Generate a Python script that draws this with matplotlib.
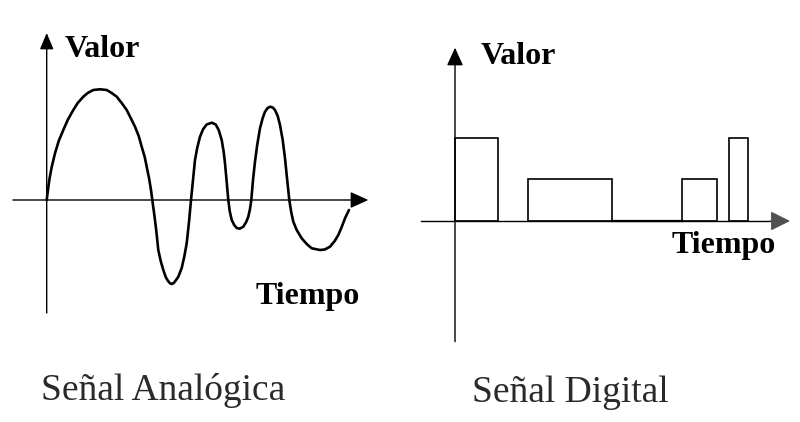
import matplotlib
matplotlib.use("Agg")
import matplotlib.pyplot as plt

# ---------------- data ----------------
# Analog signal: time vs value (arbitrary units)
analog_t = [0, 1, 2.6, 5, 8.3, 12, 16.6, 21, 26.6, 31, 36.6, 41, 46.6, 53.3, 60, 65,
            70, 75, 80, 84, 88.3, 92, 95, 98, 100, 102.5, 104.3, 105.6,
            107.5, 109.5, 111.6, 114, 116.6, 119, 121, 123, 125, 127, 129, 131.5,
            135, 137.5, 140, 142.3, 144.3,
            146.3, 148.3, 150.5, 153.3, 156.5, 160, 165, 169, 172, 175, 177, 178.3,
            180, 181.6,
            183, 185, 187.5, 190, 193, 196.6, 199.5, 201.6, 203.3, 204.6,
            206.3, 208.3, 210.5, 213.3, 216, 218.3, 221, 223.5, 226, 228.3, 231,
            233.3, 236, 238.3, 240.5, 242.6,
            244.5, 246.6, 250, 255, 260, 265, 273.3, 278, 283.3, 288, 291.6, 295,
            298.3, 302.3]
analog_v = [0, 8, 20, 33, 46.7, 59, 70, 80, 90, 97, 103.3, 107, 110, 110.7, 110, 107,
            103.3, 97, 90, 82, 73.3, 64, 53.3, 43, 33.3, 21, 10, 0,
            -14, -30, -50, -61, -70, -77, -80.5, -83, -84, -83, -80.5, -77,
            -68, -57, -43.3, -22, 0,
            20, 40, 52, 63.3, 71, 75.5, 77.3, 75.5, 70, 60, 48, 36.7,
            18, 0,
            -11, -20, -25, -28, -28.7, -26.7, -22, -16.7, -9, 0,
            20, 38.3, 55, 71.7, 82, 88.3, 92, 93.3, 92.5, 90, 84,
            75, 60, 41.7, 20, 0,
            -12, -21.7, -30, -38.3, -44, -48.3, -50, -49.5, -46.7, -41, -35, -27,
            -18.3, -10]

# Digital signal: pulses (start time, duration, level)
digital_start = [0, 73.3, 226.7, 274.3]
digital_width = [42.7, 83.4, 35.6, 18.4]
digital_level = [2, 1, 1, 2]
digital_zero_segment = [156.7, 226.7]

titles = ["Señal Analógica", "Señal Digital"]
y_label = "Valor"
x_label = "Tiempo"

# ---------------- figure ----------------
W, H = 800, 422
fig = plt.figure(figsize=(W / 100, H / 100), dpi=100)
fig.patch.set_facecolor("white")

def px(x, y):
    return x / W, 1 - y / H

# Left (analog) axes: data units map to pixels, origin at (46.7, 200)
axL = fig.add_axes([0, 0, 1, 1])
axL.set_xlim(-46.7, W - 46.7)
axL.set_ylim(200 - H, 200)
axL.axis("off")
axL.patch.set_alpha(0)

# Right (digital) axes: origin at (455, 221), level unit = 41.7 px
unit = 41.7
axR = fig.add_axes([0, 0, 1, 1])
axR.set_xlim(-455, W - 455)
axR.set_ylim((221 - H) / unit, 221 / unit)
axR.axis("off")
axR.patch.set_alpha(0)

def arrow(ax, start, tip, color="black", hl=1.1, hw=0.5):
    ax.annotate("", xy=tip, xytext=start,
                arrowprops=dict(arrowstyle=f"-|>,head_length={hl},head_width={hw}",
                                mutation_scale=10, lw=1.0, color=color,
                                shrinkA=0, shrinkB=0))

# analog axes
arrow(axL, (0, -113), (0, 167), hl=1.0, hw=0.42)
arrow(axL, (-33.7, 0), (321.6, 0))
axL.plot(analog_t, analog_v, color="black", lw=1.9, solid_capstyle="round",
         solid_joinstyle="round")

# digital axes
arrow(axR, (0, -120.7 / unit), (0, 173.3 / unit), hl=1.1, hw=0.5)
axR.plot([-34.3, 320], [0, 0], color="black", lw=1.0)
arrow(axR, (315, 0), (335, 0), color="#505050", hl=1.2, hw=0.6)
axR.bar(digital_start, digital_level, width=digital_width, align="edge",
        fill=False, edgecolor="black", lw=1.2)
axR.plot(digital_zero_segment, [0, 0], color="black", lw=1.6)

# labels
lab = dict(family="Liberation Serif", fontweight="bold", fontsize=23,
           color="black", ha="left", va="baseline")
fig.text(*px(65, 57), y_label, **lab)
fig.text(*px(481, 64.5), y_label, **lab)
fig.text(*px(256, 304), x_label, **lab)
fig.text(*px(672, 253), x_label, **lab)

tit = dict(family="Liberation Serif", fontsize=27, color="#2a2a2a",
           ha="left", va="baseline")
fig.text(*px(41, 400), titles[0], **tit)
fig.text(*px(472, 401.5), titles[1], **tit)

fig.savefig("out.png", dpi=100, facecolor="white")
